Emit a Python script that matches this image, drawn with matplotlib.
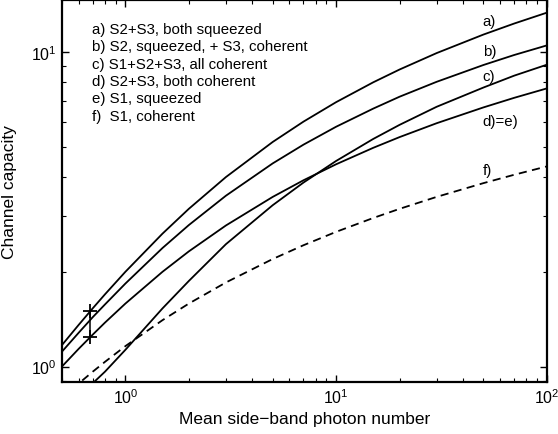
import matplotlib
matplotlib.use('Agg')
import matplotlib.pyplot as plt

plt.rcParams['font.family'] = ['Liberation Sans', 'DejaVu Sans']
plt.rcParams['mathtext.fontset'] = 'custom'
plt.rcParams['mathtext.rm'] = 'Liberation Sans'

# mean side-band photon number
n = [0.5, 0.6, 0.7, 0.8, 1, 1.5, 2, 3, 5, 7, 10, 15, 20, 30, 50, 70, 100]

# channel capacities
cap_a = [1.17, 1.356, 1.531, 1.696, 2.0, 2.644, 3.17, 4.0, 5.17, 6.0, 6.919, 8.0, 8.785, 9.908, 11.345, 12.299, 13.316]
cap_b = [1.115, 1.28, 1.435, 1.575, 1.835, 2.38, 2.815, 3.49, 4.42, 5.07, 5.78, 6.6, 7.2, 8.03, 9.08, 9.77, 10.48]
cap_c = [0.649, 0.759, 0.885, 0.963, 1.13, 1.53, 1.87, 2.448, 3.255, 3.842, 4.5, 5.286, 5.86, 6.689, 7.7, 8.4, 9.1]
cap_de = [1.0, 1.138, 1.263, 1.379, 1.585, 2.0, 2.322, 2.807, 3.459, 3.907, 4.392, 4.954, 5.358, 5.931, 6.658, 7.142, 7.651]
cap_f = [0.792, 0.883, 0.963, 1.035, 1.161, 1.404, 1.585, 1.85, 2.196, 2.429, 2.679, 2.965, 3.17, 3.46, 3.826, 4.068, 4.324]

# error bar between a) and d)=e)
bar_x = [0.68, 0.68]
bar_y = [1.24, 1.50]

legend_lines = ['a) S2+S3, both squeezed',
                'b) S2, squeezed, + S3, coherent',
                'c) S1+S2+S3, all coherent',
                'd) S2+S3, both coherent',
                'e) S1, squeezed',
                'f)  S1, coherent']
curve_labels = ['a)', 'b)', 'c)', 'd)=e)', 'f)']
label_y = [0.945, 0.866, 0.801, 0.683, 0.555]

fig = plt.figure(figsize=(5.58, 4.35), dpi=100)
ax = fig.add_axes([0.111, 0.1195, 0.869, 0.878])

lw = 1.3
for cap in [cap_a, cap_b, cap_c, cap_de]:
    ax.plot(n, cap, color='black', lw=lw)
ax.plot(n, cap_f, color='black', lw=lw, linestyle=(0, (4.5, 3)))
ax.plot(bar_x, bar_y, color='black', lw=1.1, marker='+', ms=10, mew=1.3)

ax.set_xscale('log')
ax.set_yscale('log')
ax.set_xlim(0.5, 100)
ax.set_ylim(0.893, 14.6)

ax.tick_params(which='both', direction='in', top=True, right=True, labelsize=11.5)
ax.tick_params(which='major', length=5, width=1)
ax.tick_params(which='minor', length=3, width=0.8)
for s in ax.spines.values():
    s.set_linewidth(1.6)

ax.set_xlabel('Mean side\u2212band photon number', fontsize=12.5, labelpad=4)
ax.set_ylabel('Channel capacity', fontsize=12.5, labelpad=10)

for i, t in enumerate(legend_lines):
    ax.text(0.062, 0.924 - i * 0.0453, t, transform=ax.transAxes,
            fontsize=10.8, va='center', ha='left')

for t, y in zip(curve_labels, label_y):
    ax.text(0.868, y, t, transform=ax.transAxes, fontsize=10.8, va='center', ha='left')

plt.savefig('out.png', dpi=100)
